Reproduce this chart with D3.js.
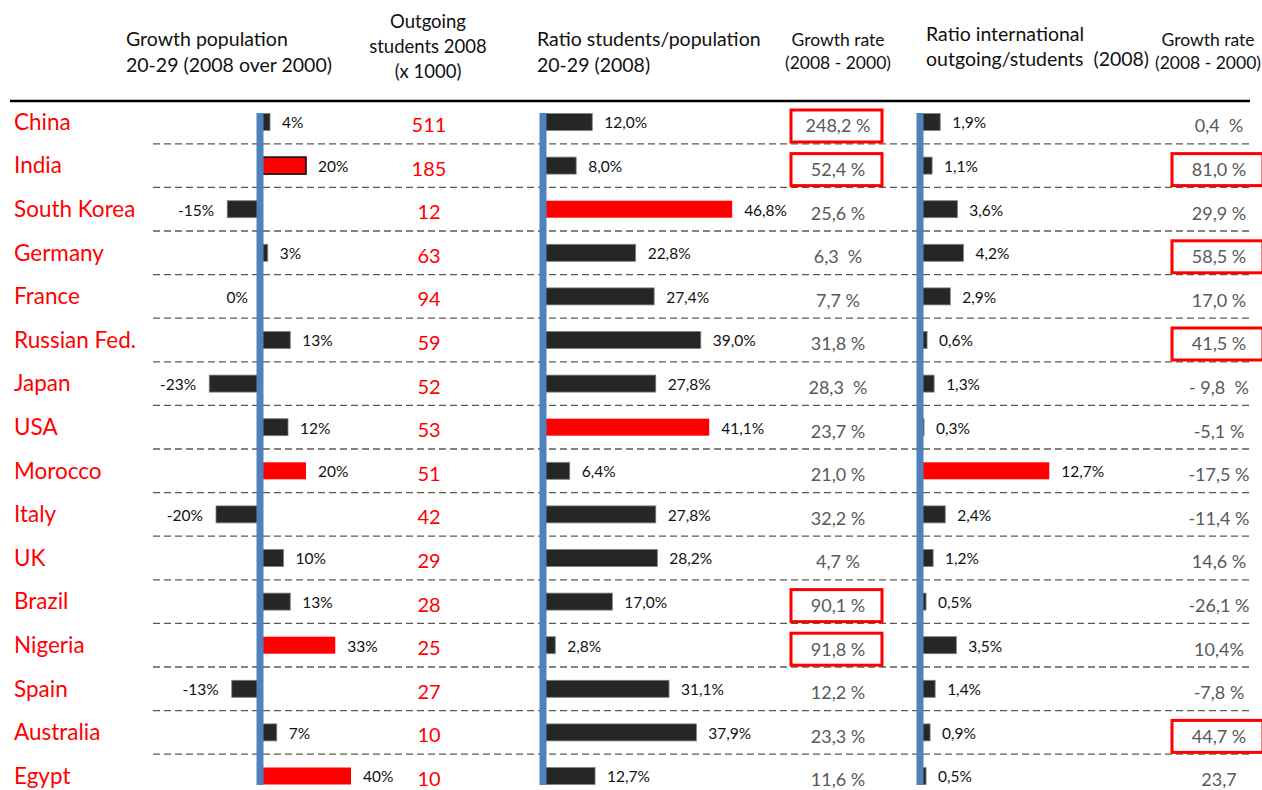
<!DOCTYPE html>
<html>
<head>
<meta charset="utf-8">
<script src="https://cdn.jsdelivr.net/npm/d3@7"></script>
<style>
  body { margin: 0; background: #fff; }
  text { font-family: Lato, "Noto Sans", sans-serif; white-space: pre; }
</style>
</head>
<body>
<svg id="chart" width="1262" height="790"></svg>
<script>
// data
const countries = ["China", "India", "South Korea", "Germany", "France", "Russian Fed.", "Japan", "USA",
  "Morocco", "Italy", "UK", "Brazil", "Nigeria", "Spain", "Australia", "Egypt"];
const popGrowth = [4, 20, -15, 3, 0, 13, -23, 12, 20, -20, 10, 13, 33, -13, 7, 40];
const outgoing = [511, 185, 12, 63, 94, 59, 52, 53, 51, 42, 29, 28, 25, 27, 10, 10];
const ratioStudents = [12.0, 8.0, 46.8, 22.8, 27.4, 39.0, 27.8, 41.1, 6.4, 27.8, 28.2, 17.0, 2.8, 31.1, 37.9, 12.7];
const growthStudents = ["248,2 %", "52,4 %", "25,6 %", "6,3  %", "7,7 %", "31,8 %", "28,3  %", "23,7 %",
  "21,0 %", "32,2 %", "4,7 %", "90,1 %", "91,8 %", "12,2 %", "23,3 %", "11,6 %"];
const ratioIntl = [1.9, 1.1, 3.6, 4.2, 2.9, 0.6, 1.3, 0.3, 12.7, 2.4, 1.2, 0.5, 3.5, 1.4, 0.9, 0.5];
const growthIntl = ["0,4  %", "81,0 %", "29,9 %", "58,5 %", "17,0 %", "41,5 %", "- 9,8  %", "-5,1 %",
  "-17,5 %", "-11,4 %", "14,6 %", "-26,1 %", "10,4%", "-7,8 %", "44,7 %", "23,7"];

const redPop = ["India", "Morocco", "Nigeria", "Egypt"];
const redRatio = ["South Korea", "USA"];
const redIntl = ["Morocco"];
const boxedStudents = ["China", "India", "Brazil", "Nigeria"];
const boxedIntl = ["India", "Germany", "Russian Fed.", "Australia"];

const svg = d3.select("#chart");
const locale = d3.formatLocale({decimal: ",", thousands: ".", grouping: [3], currency: ["", ""]});
const fmt1 = locale.format(".1f");

const y = d3.scalePoint().domain(countries).range([122, 776]);
const barH = 17;

// x scales, one per bar panel
const xPop = d3.scaleLinear().domain([0, 40]).range([261, 351]);
const xRatio = d3.scaleLinear().domain([0, 50]).range([544, 745]);
const xIntl = d3.scaleLinear().domain([0, 10]).range([921, 1022]);

// headers
function header(lines, x, y0, dy, size, anchor) {
  const t = svg.append("text")
    .attr("x", x).attr("y", y0)
    .attr("text-anchor", anchor)
    .style("font-size", size + "px")
    .style("fill", "#111");
  lines.forEach((l, i) => {
    t.append("tspan").attr("x", x).attr("y", y0 + i * dy).text(l);
  });
}
header(["Growth population", "20-29 (2008 over 2000)"], 126, 46, 26, 19.5, "start");
header(["Outgoing", "students 2008", "(x 1000)"], 428, 28, 25, 18.5, "middle");
header(["Ratio students/population", "20-29 (2008)"], 537, 46, 26, 19.5, "start");
header(["Growth rate", "(2008 - 2000)"], 838, 46, 23, 17.5, "middle");
header(["Ratio international", "outgoing/students  (2008)"], 926, 41, 25, 19.5, "start");
header(["Growth rate", "(2008 - 2000)"], 1208, 46, 23, 17.5, "middle");

svg.append("line")
  .attr("x1", 10).attr("x2", 1250).attr("y1", 101).attr("y2", 101)
  .attr("stroke", "#000").attr("stroke-width", 2.5);

// dashed separators between rows
const seps = d3.pairs(countries).map(([a, b]) => (y(a) + y(b)) / 2);
svg.append("g").selectAll("line").data(seps).join("line")
  .attr("x1", 153).attr("x2", 1250)
  .attr("y1", d => d).attr("y2", d => d)
  .attr("stroke", "#5c5c4c").attr("stroke-width", 1.3)
  .attr("stroke-dasharray", "7,4");

// country names
svg.append("g").selectAll("text").data(countries).join("text")
  .attr("x", 14).attr("y", d => y(d)).attr("dy", "0.35em")
  .style("font-size", "22.5px").style("fill", "#ff0000")
  .text(d => d);

// outgoing students
svg.append("g").selectAll("text").data(outgoing).join("text")
  .attr("x", 429).attr("y", (d, i) => y(countries[i]) + 3).attr("dy", "0.35em")
  .attr("text-anchor", "middle")
  .style("font-size", "20px").style("fill", "#ff0000")
  .text(d => d);

function barPanel(values, x, reds, fmt, outlined) {
  const g = svg.append("g");
  const rows = values.map((v, i) => ({c: countries[i], v: v}));
  g.selectAll("rect").data(rows).join("rect")
    .attr("x", d => Math.min(x(0), x(d.v)))
    .attr("width", d => Math.abs(x(d.v) - x(0)))
    .attr("y", d => y(d.c) - barH / 2)
    .attr("height", barH)
    .attr("fill", d => reds.includes(d.c) ? "#ff0000" : "#262626")
    .attr("stroke", d => outlined.includes(d.c) ? "#000" : (reds.includes(d.c) ? "none" : "#7f7f7f"))
    .attr("stroke-width", d => outlined.includes(d.c) ? 1.5 : 0.8);
  // axis line
  g.append("line")
    .attr("x1", x(0) - 1).attr("x2", x(0) - 1)
    .attr("y1", 113).attr("y2", 785)
    .attr("stroke", "#4f81bd").attr("stroke-width", 7);
  g.selectAll("text").data(rows).join("text")
    .attr("x", d => d.v > 0 ? x(d.v) + 12 : x(d.v) - 13)
    .attr("y", d => y(d.c) + 1).attr("dy", "0.35em")
    .attr("text-anchor", d => d.v > 0 ? "start" : "end")
    .style("font-size", "15.5px").style("fill", "#111")
    .text(d => fmt(d.v));
}
barPanel(popGrowth, xPop, redPop, d => d + "%", ["India"]);
barPanel(ratioStudents, xRatio, redRatio, d => fmt1(d) + "%", []);
barPanel(ratioIntl, xIntl, redIntl, d => fmt1(d) + "%", []);

function growthColumn(labels, cx, boxed) {
  const g = svg.append("g");
  const rows = labels.map((l, i) => ({c: countries[i], l: l}));
  g.selectAll("rect").data(rows.filter(d => boxed.includes(d.c))).join("rect")
    .attr("x", cx - 47).attr("width", 91)
    .attr("y", d => y(d.c) + 4 - 16).attr("height", 32)
    .attr("fill", "none").attr("stroke", "#ff0000").attr("stroke-width", 3);
  g.selectAll("text").data(rows).join("text")
    .attr("x", cx).attr("y", d => y(d.c) + 4).attr("dy", "0.35em")
    .attr("text-anchor", "middle")
    .style("font-size", "18px").style("fill", "#595959")
    .text(d => d.l);
}
growthColumn(growthStudents, 838, boxedStudents);
growthColumn(growthIntl, 1219, boxedIntl);
</script>
</body>
</html>
